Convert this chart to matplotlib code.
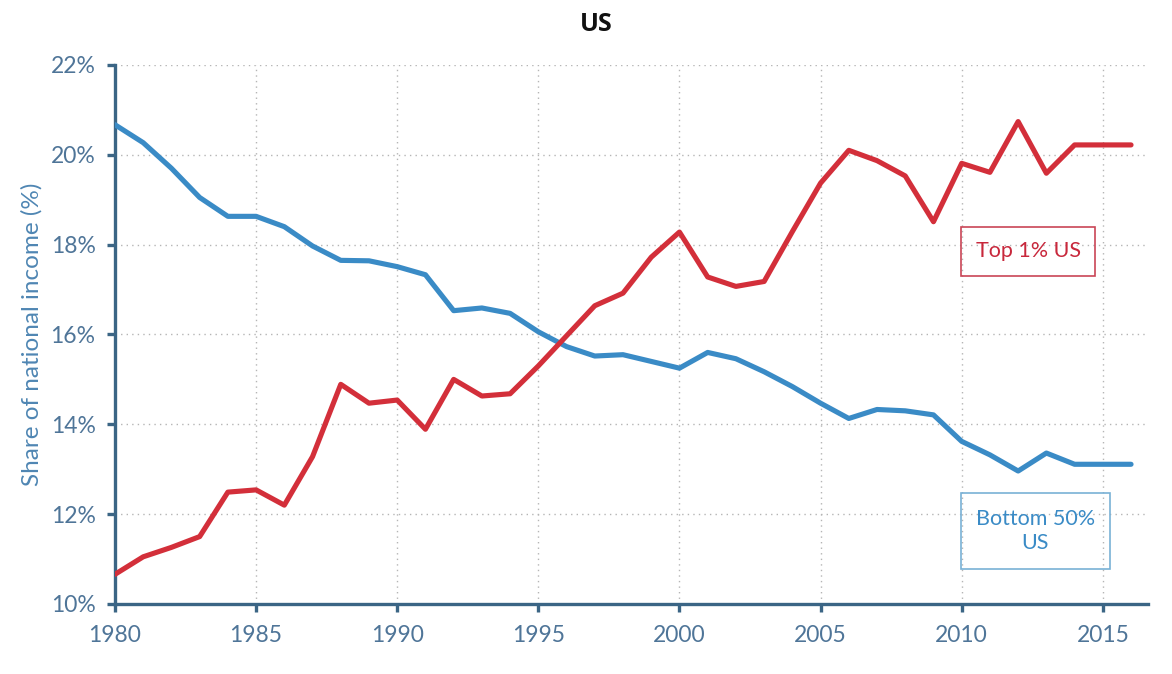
import matplotlib
matplotlib.use("Agg")
import matplotlib.pyplot as plt
from matplotlib.patches import Rectangle

years = list(range(1980, 2017))

# share of national income (%)
top1 = [10.66, 11.05, 11.26, 11.50, 12.49, 12.54, 12.20, 13.28, 14.89, 14.47,
        14.54, 13.89, 15.00, 14.63, 14.68, 15.30, 15.97, 16.64, 16.92, 17.72,
        18.28, 17.28, 17.07, 17.18, 18.29, 19.37, 20.10, 19.87, 19.53, 18.51,
        19.81, 19.61, 20.74, 19.59, 20.22, 20.22, 20.22]
bottom50 = [20.67, 20.27, 19.70, 19.05, 18.63, 18.63, 18.40, 17.97, 17.65, 17.64,
            17.51, 17.33, 16.53, 16.59, 16.47, 16.06, 15.73, 15.52, 15.55, 15.40,
            15.25, 15.60, 15.46, 15.17, 14.84, 14.47, 14.13, 14.33, 14.30, 14.21,
            13.62, 13.32, 12.96, 13.36, 13.11, 13.11, 13.11]

xticks = [1980, 1985, 1990, 1995, 2000, 2005, 2010, 2015]
yticks = [10, 12, 14, 16, 18, 20, 22]

RED = '#d32f3a'
BLUE = '#3a8bc6'
AXC = '#3b6585'
TXC = '#4f7598'

plt.rcParams['font.family'] = ['Lato', 'DejaVu Sans']

fig = plt.figure(figsize=(11.72, 6.74), dpi=100)
ax = fig.add_axes([0.0981, 0.1039, 0.8814, 0.7997])

ax.plot(years, bottom50, color=BLUE, lw=3.7, solid_capstyle='round', zorder=3)
ax.plot(years, top1, color=RED, lw=3.7, solid_capstyle='round', zorder=3)

ax.set_xlim(1980, 2016.6)
ax.set_ylim(10, 22)
ax.set_xticks(xticks)
ax.set_yticks(yticks)
ax.set_yticklabels([f"{v}%" for v in yticks])

ax.grid(True, ls=(0, (1, 3)), color='#b5b5b5', lw=1)
ax.set_axisbelow(True)

for s in ['top', 'right']:
    ax.spines[s].set_visible(False)
for s in ['left', 'bottom']:
    ax.spines[s].set_color(AXC)
    ax.spines[s].set_linewidth(2.4)

ax.tick_params(axis='both', colors=AXC, width=2.4, length=6, labelsize=16.5,
               labelcolor=TXC)
ax.tick_params(axis='x', pad=9)
ax.tick_params(axis='y', pad=8)

ax.set_ylabel("Share of national income (%)", fontsize=17.5, color='#4f86b3',
              labelpad=6)

fig.text(0.509, 0.963, "US", ha='center', va='center', fontsize=18,
         fontweight='bold', family=['Open Sans', 'DejaVu Sans'], color='#111111')

# label boxes
ax.add_patch(Rectangle((2009.97, 17.30), 4.76, 1.10, fill=False,
                       ec='#c94556', lw=1.2, zorder=4))
ax.text(2012.35, 17.85, "Top 1% US", ha='center', va='center', fontsize=15.5,
        color='#c8283c', zorder=5)

ax.add_patch(Rectangle((2009.96, 10.78), 5.29, 1.69, fill=False,
                       ec='#79b1d6', lw=1.2, zorder=4))
ax.text(2012.6, 11.62, "Bottom 50%\nUS", ha='center', va='center', fontsize=15.5,
        color=BLUE, linespacing=1.25, zorder=5)

fig.savefig("out.png", dpi=100)
